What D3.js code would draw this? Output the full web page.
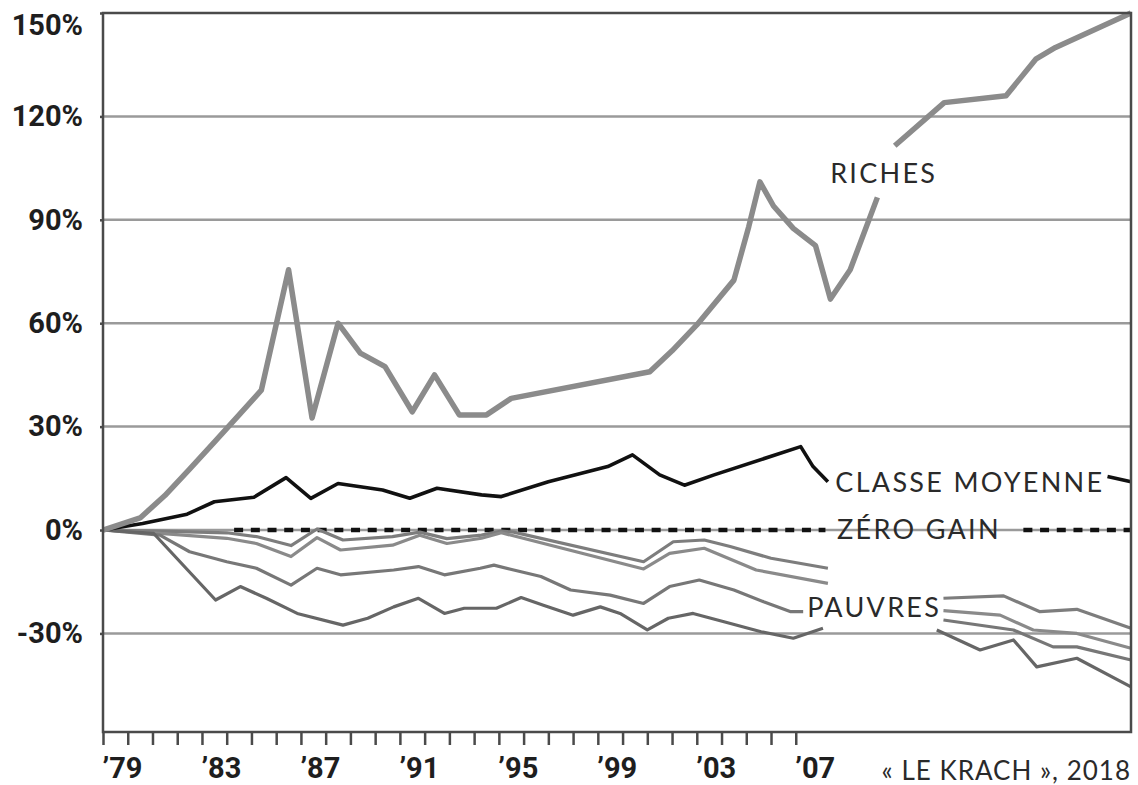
<!DOCTYPE html>
<html>
<head>
<meta charset="utf-8">
<script src="https://cdn.jsdelivr.net/npm/d3@7.9.0/dist/d3.min.js"></script>
<style>
  html, body { margin: 0; padding: 0; background: #fff; }
  svg { display: block; }
  .axis .tick text { font-family: Roboto, "Liberation Sans", sans-serif; font-weight: 700; font-size: 29px; fill: #1e1e1e; }
  .axis path, .axis line { stroke: #4a4a4a; stroke-width: 2.5; }
  .label { font-family: Lato, "Open Sans", sans-serif; font-size: 27px; fill: #2a2a2a; letter-spacing: 2.3px; }
  .caption { font-family: Lato, "Open Sans", sans-serif; font-size: 26px; fill: #2a2a2a; letter-spacing: 1px; }
</style>
</head>
<body>
<svg id="chart" width="1138" height="785"></svg>
<script>
// ---- data (years as plotted positions, values in %) ----
const richesYears = [1979, 1980.5, 1981.5, 1982.5, 1983.5, 1984.5, 1985.4, 1986.5, 1987.45, 1988.5, 1989.4, 1990.4, 1991.5, 1992.4, 1993.4, 1994.5, 1995.5, 2001.1, 2002.0, 2003.0, 2004.5, 2005.1, 2005.55, 2006.1, 2006.9, 2007.8, 2008.4, 2009.2, 2010.3];
const richesValues = [0, 3.5, 10, 17.7, 25.5, 33.4, 40.6, 75.5, 32.5, 60, 51.3, 47.4, 34.3, 45, 33.4, 33.4, 38.2, 45.9, 52, 59.5, 72.5, 88, 101, 94, 87.5, 82.5, 67, 75.5, 96.5];
const richesYears2 = [2011.0, 2013.0, 2015.5, 2016.7, 2017.5, 2020.55];
const richesValues2 = [111.5, 124, 126, 136.6, 140, 150];

const moyenneYears = [1979, 1980.6, 1982.4, 1983.5, 1985.1, 1986.4, 1987.4, 1988.5, 1990.3, 1991.4, 1992.5, 1994.3, 1995.1, 1997.0, 1999.4, 2000.4, 2001.5, 2002.5, 2003.7, 2007.2, 2007.7, 2008.3];
const moyenneValues = [0, 1.9, 4.6, 8.2, 9.5, 15.2, 9.2, 13.5, 11.6, 9.2, 12.1, 10.2, 9.7, 14, 18.4, 21.8, 16, 13, 16, 24.2, 18.4, 14];
const moyenneYears2 = [2019.6, 2020.55];
const moyenneValues2 = [15.5, 14];

const zeroYears = [[1984.3, 2008.2], [2016.2, 2020.55]];

const pauvres1Years = [1979, 1981.3, 1984.0, 1985.2, 1986.6, 1987.65, 1988.7, 1990.7, 1991.8, 1992.9, 1994.3, 1995.1, 1995.6, 2000.85, 2002.05, 2003.3, 2004.35, 2006.0, 2008.3];
const pauvres1Values = [0, -0.3, -0.8, -1.9, -4.5, 0.3, -2.9, -1.9, -0.6, -2.5, -1.5, -0.3, -0.6, -9.2, -3.4, -2.9, -4.8, -8.2, -11.1];
const pauvres2Years = [1979, 1981.3, 1984.0, 1985.2, 1986.6, 1987.65, 1988.6, 1990.7, 1991.8, 1992.9, 1994.3, 1995.1, 2000.85, 2001.9, 2003.3, 2005.4, 2008.3];
const pauvres2Values = [0, -1, -2.4, -3.9, -7.7, -2.2, -5.8, -4.4, -1.5, -3.9, -2.4, -0.8, -11.3, -6.8, -5.3, -11.6, -15.5];
const pauvres3Years = [1979, 1981.3, 1982.5, 1984.0, 1985.2, 1986.6, 1987.65, 1988.6, 1990.75, 1991.75, 1992.8, 1994.25, 1994.8, 1995.6, 1996.7, 1997.9, 1999.5, 2000.85, 2001.9, 2003.1, 2004.5, 2005.7, 2006.8, 2007.3];
const pauvres3Values = [0, -1.5, -6.3, -9.2, -11.1, -16, -11.1, -13, -11.6, -10.6, -13, -11.1, -10.2, -11.6, -13.5, -17.4, -18.9, -21.3, -16.4, -14.5, -17.4, -20.8, -23.7, -23.7];
const pauvres4Years = [1979, 1981.05, 1983.55, 1984.55, 1985.6, 1986.85, 1988.7, 1989.7, 1990.75, 1991.75, 1992.8, 1993.6, 1994.9, 1995.9, 1996.8, 1998.0, 1999.1, 1999.9, 2001.0, 2001.85, 2002.85, 2004.1, 2005.6, 2006.9, 2008.1];
const pauvres4Values = [0, -1, -20.3, -16.4, -19.8, -24.2, -27.6, -25.6, -22.3, -19.8, -24.2, -22.7, -22.7, -19.6, -21.8, -24.7, -22.3, -24.2, -29, -25.6, -24.2, -26.6, -29.5, -31.4, -28.5];

// right-hand pieces of the four "pauvres" lines
const pauvresRightYears = [
  [2012.97, 2015.4, 2016.87, 2018.36, 2020.55],
  [2012.97, 2015.26, 2016.6, 2018.36, 2020.55],
  [2012.97, 2015.8, 2017.4, 2018.36, 2020.55],
  [2012.7, 2014.45, 2015.8, 2016.74, 2018.36, 2020.55]
];
const pauvresRightValues = [
  [-19.8, -19.1, -23.7, -23.0, -28.5],
  [-23.4, -24.7, -29, -30, -34.3],
  [-26.1, -29, -33.9, -33.9, -37.7],
  [-29, -34.8, -31.9, -39.7, -37.2, -45.5]
];

const yTicks = [-30, 0, 30, 60, 90, 120, 150];
const xTicks = d3.range(1979, 2008);
const xLabelYears = [1979, 1983, 1987, 1991, 1995, 1999, 2003, 2007];

// ---- layout ----
const svg = d3.select('#chart');
const plot = { left: 103, right: 1131, top: 13, bottom: 732 };

const x = d3.scaleLinear().domain([1979, 2020.55]).range([plot.left, plot.right]);
const y = d3.scaleLinear().domain([-58.6, 150]).range([plot.bottom, plot.top]);

const zip = (xs, vs) => xs.map((yr, i) => ({ year: yr, value: vs[i] }));
const line = d3.line().x(d => x(d.year)).y(d => y(d.value));

// gridlines
svg.append('g')
  .selectAll('line')
  .data(yTicks.filter(v => v < 150))
  .join('line')
  .attr('x1', plot.left).attr('x2', plot.right)
  .attr('y1', d => y(d)).attr('y2', d => y(d))
  .attr('stroke', '#9a9a9a')
  .attr('stroke-width', 2.5);

// zero gain dashed line
svg.append('g')
  .selectAll('line')
  .data(zeroYears)
  .join('line')
  .attr('x1', d => x(d[0])).attr('x2', d => x(d[1]))
  .attr('y1', y(0)).attr('y2', y(0))
  .attr('stroke', '#111')
  .attr('stroke-width', 4.5)
  .attr('stroke-dasharray', '9 7.7');

// pauvres
const pauvresLeft = [
  zip(pauvres1Years, pauvres1Values),
  zip(pauvres2Years, pauvres2Values),
  zip(pauvres3Years, pauvres3Values),
  zip(pauvres4Years, pauvres4Values)
];
const pauvresRight = pauvresRightYears.map((ys, i) => zip(ys, pauvresRightValues[i]));
const poorColors = ['#7d7d7d', '#8a8a8a', '#777', '#666'];

svg.append('g')
  .selectAll('path')
  .data(pauvresLeft.concat(pauvresRight))
  .join('path')
  .attr('d', line)
  .attr('fill', 'none')
  .attr('stroke', (d, i) => poorColors[i % 4])
  .attr('stroke-width', 3.2)
  .attr('stroke-linejoin', 'round');

// classe moyenne
svg.append('g')
  .selectAll('path')
  .data([zip(moyenneYears, moyenneValues), zip(moyenneYears2, moyenneValues2)])
  .join('path')
  .attr('d', line)
  .attr('fill', 'none')
  .attr('stroke', '#111')
  .attr('stroke-width', 3.6)
  .attr('stroke-linejoin', 'round');

// riches
svg.append('g')
  .selectAll('path')
  .data([zip(richesYears, richesValues), zip(richesYears2, richesValues2)])
  .join('path')
  .attr('d', line)
  .attr('fill', 'none')
  .attr('stroke', '#8b8b8b')
  .attr('stroke-width', 5.5)
  .attr('stroke-linejoin', 'round');

// frame
svg.append('rect')
  .attr('x', plot.left).attr('y', plot.top)
  .attr('width', plot.right - plot.left).attr('height', plot.bottom - plot.top)
  .attr('fill', 'none')
  .attr('stroke', '#4a4a4a')
  .attr('stroke-width', 2.5);

// axes
const yAxis = svg.append('g')
  .attr('class', 'axis')
  .attr('transform', `translate(${plot.left},0)`)
  .call(d3.axisLeft(y).tickValues(yTicks).tickSize(3).tickPadding(17)
    .tickFormat(d => d + '%'));
yAxis.select('.domain').remove();
yAxis.selectAll('.tick')
  .filter(d => d === 150)
  .select('text')
  .attr('dy', '0.74em');

const xAxis = svg.append('g')
  .attr('class', 'axis')
  .attr('transform', `translate(0,${plot.bottom})`)
  .call(d3.axisBottom(x).tickValues(xTicks).tickSize(13).tickSizeOuter(0).tickPadding(12)
    .tickFormat(d => xLabelYears.includes(d) ? '\u2019' + String(d).slice(2) : ''));
xAxis.select('.domain').remove();
xAxis.selectAll('.tick text').attr('text-anchor', 'start').attr('dx', '-1');

// labels
const labels = svg.append('g');
labels.append('text').attr('class', 'label')
  .attr('x', x(2008.39)).attr('y', y(100.7)).text('RICHES');
labels.append('text').attr('class', 'label')
  .attr('x', x(2008.6)).attr('y', y(11)).text('CLASSE MOYENNE');
labels.append('text').attr('class', 'label')
  .attr('x', x(2008.67)).attr('y', y(-2.6)).text('ZÉRO GAIN');
labels.append('text').attr('class', 'label')
  .attr('x', x(2007.46)).attr('y', y(-25.2)).text('PAUVRES');

svg.append('text').attr('class', 'caption')
  .attr('x', plot.right).attr('y', 780)
  .attr('text-anchor', 'end')
  .text('« LE KRACH », 2018');
</script>
</body>
</html>
